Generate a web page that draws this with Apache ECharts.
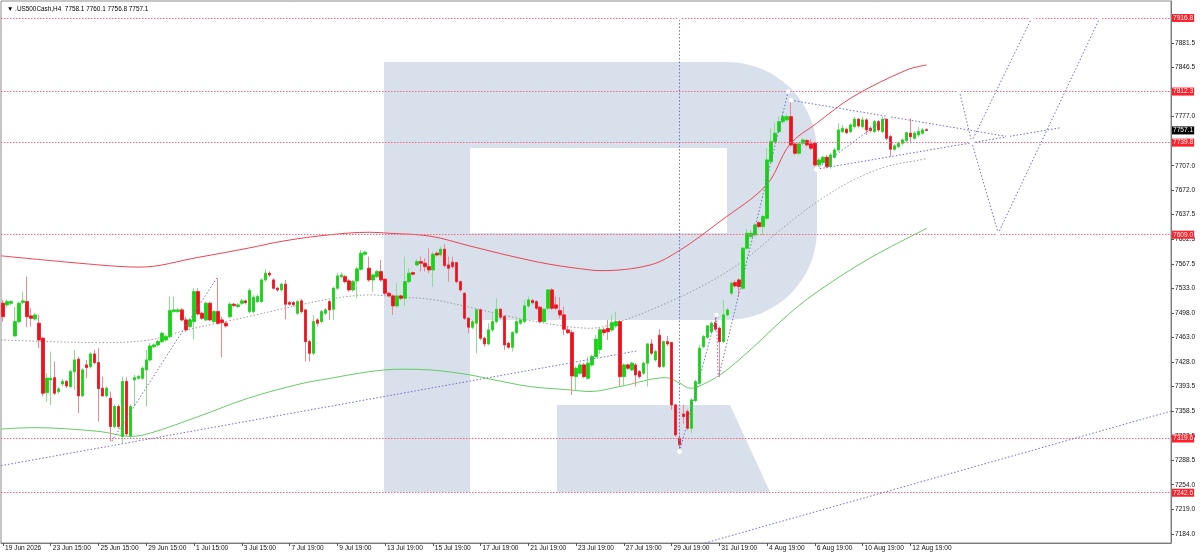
<!DOCTYPE html>
<html><head><meta charset="utf-8">
<script src="https://cdn.jsdelivr.net/npm/echarts@6/dist/echarts.min.js"></script>
<style>html,body{margin:0;padding:0;background:#fff}#c{width:1200px;height:555px}</style>
</head><body><div id="c"></div><script>
// ---- data (H4 candles, .US500Cash) ----
const open = [
7511.7,7509.3,7511.7,7465.3,7485.6,7513.0,7514.0,7493.7,7489.4,7483.3,
7462.0,7384.8,7402.8,7406.0,7386.2,7397.1,7400.5,7393.4,7414.6,7432.2,
7380.1,7424.1,7421.7,7439.7,7427.4,7391.0,7380.1,7376.8,7336.6,7365.0,
7322.4,7400.5,7323.3,7402.8,7405.2,7405.2,7417.0,7431.2,7450.1,7452.5,
7457.2,7459.6,7464.3,7500.0,7500.0,7502.2,7488.0,7478.5,7485.6,7528.2,
7497.5,7488.0,7511.7,7485.6,7499.8,7488.0,7483.3,7492.7,7510.3,7507.0,
7511.7,7515.0,7499.8,7499.8,7514.0,7514.0,7544.8,7554.3,7544.8,7533.0,
7530.6,7538.7,7512.6,7512.6,7497.5,7515.0,7502.2,7457.2,7440.7,7488.0,
7485.6,7497.5,7514.0,7503.2,7533.0,7549.5,7549.5,7543.4,7530.6,7543.4,
7560.0,7581.3,7561.4,7544.8,7549.5,7556.6,7545.8,7525.9,7522.1,7507.9,
7522.1,7518.8,7542.4,7555.2,7566.1,7570.8,7568.5,7563.7,7559.0,7582.7,
7580.3,7588.4,7566.1,7569.9,7569.4,7542.4,7525.9,7490.4,7477.6,7483.3,
7502.2,7462.0,7454.0,7473.8,7485.6,7503.2,7492.7,7454.9,7449.2,7470.0,
7483.3,7485.6,7507.9,7515.5,7514.0,7506.0,7485.6,7504.6,7530.6,7509.3,
7501.3,7495.1,7473.8,7470.0,7407.6,7412.3,7424.1,7405.2,7424.1,7436.0,
7446.0,7474.0,7476.0,7473.8,7479.5,7485.6,7407.6,7424.1,7417.0,7424.1,
7414.6,7412.3,7426.5,7453.9,7431.2,7466.0,7422.0,7457.2,7455.8,7367.3,
7320.0,7354.5,7357.9,7334.2,7373.5,7398.1,7450.1,7463.4,7471.4,7483.3,
7476.2,7457.2,7495.1,7525.9,7541.0,7544.8,7533.0,7589.8,7606.4,7608.7,
7626.2,7620.5,7632.4,7712.8,7741.2,7755.4,7769.6,7772.0,7776.7,7737.9,
7724.7,7738.9,7742.7,7738.0,7738.9,7708.1,7711.4,7719.0,7705.7,7719.0,
7729.4,7755.4,7758.7,7755.4,7762.5,7773.0,7762.5,7772.0,7760.2,7755.4,
7769.6,7755.4,7773.0,7748.3,7730.4,7734.1,7738.9,7742.7,7753.1,7746.0,
7750.7,7753.1,7758.1];
const high = [
7516.4,7517.0,7516.0,7506.9,7514.0,7528.2,7549.5,7504.6,7498.0,7495.1,
7464.3,7412.3,7443.0,7428.9,7393.0,7404.0,7403.0,7417.0,7445.4,7436.0,
7419.4,7431.2,7442.0,7445.4,7447.8,7407.6,7394.0,7386.2,7368.0,7368.0,
7407.6,7406.6,7368.0,7409.9,7410.0,7422.0,7445.4,7454.9,7455.0,7460.0,
7471.0,7467.0,7521.1,7521.1,7505.0,7505.0,7492.7,7491.0,7533.0,7533.0,
7500.0,7514.0,7514.0,7502.0,7549.5,7492.7,7486.0,7513.0,7512.0,7512.0,
7518.0,7517.0,7533.0,7523.0,7524.0,7547.0,7560.0,7557.0,7547.0,7535.0,
7541.0,7544.8,7515.0,7515.0,7516.0,7518.0,7504.0,7460.0,7495.1,7490.4,
7502.0,7505.0,7516.0,7535.3,7555.2,7555.2,7552.0,7546.0,7545.0,7563.7,
7587.4,7586.5,7577.9,7554.0,7559.0,7573.2,7547.0,7527.0,7524.0,7540.0,
7524.0,7577.9,7561.4,7557.0,7574.2,7577.9,7575.6,7589.8,7585.0,7585.0,
7592.1,7595.9,7577.9,7577.9,7570.8,7544.0,7527.0,7492.0,7488.0,7504.6,
7504.6,7464.0,7483.3,7497.5,7518.8,7504.6,7495.0,7457.0,7472.0,7492.7,
7490.0,7516.4,7521.1,7518.0,7516.0,7508.0,7505.0,7532.0,7533.0,7521.1,
7520.2,7507.0,7478.5,7473.8,7422.0,7427.0,7427.0,7436.0,7439.0,7466.7,
7478.0,7477.0,7488.0,7495.1,7499.8,7488.0,7426.5,7426.0,7429.0,7426.5,
7417.0,7429.0,7454.9,7460.6,7446.0,7474.8,7458.7,7465.3,7457.0,7368.7,
7324.7,7367.3,7361.2,7376.8,7403.0,7452.5,7466.7,7480.9,7486.0,7495.1,
7478.5,7516.4,7505.0,7543.0,7544.0,7547.2,7592.0,7616.8,7615.8,7625.0,
7627.6,7637.1,7731.8,7760.2,7767.3,7776.7,7783.8,7780.0,7799.5,7740.0,
7740.0,7746.0,7745.0,7745.0,7741.0,7718.0,7721.0,7722.3,7725.0,7732.0,
7767.3,7764.9,7761.0,7767.0,7776.7,7775.0,7776.7,7774.4,7763.0,7772.0,
7772.0,7776.7,7776.7,7750.7,7738.0,7741.0,7746.0,7755.4,7774.4,7756.0,
7762.0,7761.0,7760.1];
const low = [
7485.6,7506.0,7509.0,7464.3,7483.0,7510.0,7477.6,7478.5,7487.0,7447.8,
7379.2,7372.0,7367.3,7381.5,7383.0,7394.0,7391.0,7391.0,7388.6,7355.5,
7379.2,7405.2,7419.0,7425.0,7343.7,7379.2,7378.0,7312.0,7334.0,7333.0,
7312.9,7322.4,7320.0,7365.0,7403.0,7403.0,7365.0,7429.0,7448.0,7450.0,
7455.0,7457.0,7462.0,7498.0,7498.0,7486.0,7471.0,7476.0,7460.6,7494.0,
7488.0,7486.0,7486.0,7483.0,7481.0,7435.0,7477.0,7490.0,7506.0,7505.0,
7509.0,7510.0,7497.0,7497.0,7512.0,7512.0,7542.0,7549.0,7531.0,7528.0,
7528.0,7489.0,7508.0,7507.0,7495.0,7497.0,7428.9,7428.9,7438.0,7478.5,
7483.0,7495.0,7488.0,7488.0,7531.0,7547.0,7540.0,7528.0,7528.0,7518.8,
7558.0,7579.0,7542.0,7528.2,7547.0,7542.0,7523.0,7520.0,7495.1,7505.0,
7516.0,7507.9,7540.0,7551.0,7564.0,7556.6,7556.6,7554.3,7535.3,7578.0,
7578.0,7563.0,7542.4,7561.0,7540.0,7528.0,7488.0,7469.0,7475.0,7440.7,
7459.0,7450.1,7452.0,7471.0,7483.0,7489.0,7445.4,7447.0,7443.0,7468.0,
7481.0,7483.0,7505.0,7510.0,7502.2,7483.3,7483.0,7502.0,7502.0,7502.0,
7490.4,7466.7,7468.0,7381.5,7388.6,7410.0,7405.0,7403.0,7421.0,7433.0,
7440.0,7466.0,7459.6,7471.0,7477.0,7393.4,7393.4,7417.0,7415.0,7393.4,
7405.0,7410.0,7393.4,7438.0,7429.0,7419.4,7420.0,7451.0,7360.2,7322.0,
7301.0,7340.0,7331.8,7327.1,7371.0,7396.0,7448.0,7461.0,7469.0,7472.0,
7405.2,7455.0,7493.0,7523.0,7534.0,7521.1,7531.0,7588.0,7604.0,7606.0,
7618.0,7608.7,7630.0,7710.0,7739.0,7753.0,7767.0,7770.0,7734.1,7722.0,
7722.0,7736.0,7734.0,7729.0,7705.0,7705.0,7709.0,7703.0,7703.0,7717.0,
7727.0,7753.0,7752.0,7753.0,7760.0,7761.0,7760.0,7750.7,7754.0,7753.0,
7755.0,7753.0,7743.0,7719.9,7728.0,7732.0,7736.0,7740.0,7739.8,7744.0,
7748.0,7751.0,7756.8];
const close = [
7492.7,7514.0,7514.0,7485.6,7511.7,7515.0,7492.7,7490.4,7495.0,7459.6,
7383.9,7405.2,7405.2,7383.9,7390.0,7400.5,7394.3,7414.6,7431.2,7380.1,
7417.0,7420.3,7439.7,7427.4,7390.5,7380.1,7391.0,7336.6,7365.0,7336.6,
7400.5,7326.1,7365.0,7406.0,7407.6,7419.4,7431.2,7451.0,7452.5,7457.2,
7469.0,7464.3,7501.3,7502.2,7502.2,7488.0,7473.8,7488.0,7528.2,7496.5,
7490.4,7511.7,7488.0,7499.8,7483.3,7484.2,7479.5,7510.3,7508.4,7509.3,
7515.0,7512.6,7529.7,7520.2,7521.1,7544.8,7554.3,7551.9,7533.0,7530.6,
7538.7,7510.3,7510.3,7509.8,7514.0,7499.8,7457.2,7440.7,7485.6,7483.3,
7499.8,7502.2,7502.2,7533.0,7550.5,7551.9,7542.4,7530.6,7542.4,7560.4,
7582.7,7584.1,7544.8,7551.9,7556.6,7544.8,7525.9,7522.1,7507.9,7522.1,
7518.8,7542.4,7554.3,7552.9,7570.8,7568.5,7563.7,7559.0,7581.3,7580.3,
7588.4,7565.2,7561.4,7563.7,7542.4,7530.6,7490.4,7477.6,7485.6,7502.2,
7462.0,7454.0,7473.8,7485.6,7503.2,7491.8,7452.5,7449.2,7470.0,7485.6,
7488.0,7507.9,7516.4,7512.6,7504.6,7485.6,7503.2,7530.6,7504.6,7504.6,
7495.1,7474.8,7470.0,7408.5,7419.4,7424.1,7407.6,7426.5,7436.0,7460.6,
7474.0,7470.0,7471.4,7484.2,7485.6,7407.6,7424.1,7419.4,7426.5,7409.9,
7407.6,7426.5,7453.9,7440.7,7443.0,7421.7,7457.2,7453.9,7367.3,7324.7,
7310.5,7350.8,7334.2,7374.4,7400.5,7447.8,7464.3,7479.5,7483.3,7474.8,
7457.2,7495.1,7502.2,7540.1,7536.3,7535.3,7589.8,7611.1,7611.1,7622.9,
7620.5,7634.8,7715.2,7741.2,7753.1,7769.6,7776.7,7776.7,7736.5,7724.7,
7737.9,7743.6,7736.5,7731.8,7708.1,7715.2,7719.0,7705.7,7722.3,7729.4,
7757.8,7760.2,7754.0,7764.9,7773.0,7763.5,7772.0,7757.8,7756.9,7769.6,
7757.8,7773.0,7746.0,7730.4,7735.1,7738.9,7743.6,7754.0,7748.3,7753.1,
7755.4,7757.8,7757.1];

// x tick labels (one every 12 bars) and price tick labels
const xTickLabels = ['19 Jun 2026','23 Jun 15:00','25 Jun 15:00','29 Jun 15:00','1 Jul 15:00','3 Jul 15:00',
  '7 Jul 19:00','9 Jul 19:00','13 Jul 19:00','15 Jul 19:00','17 Jul 19:00','21 Jul 19:00','23 Jul 19:00',
  '27 Jul 19:00','29 Jul 19:00','31 Jul 19:00','4 Aug 19:00','6 Aug 19:00','10 Aug 19:00','12 Aug 19:00'];
const yTickLabels = [7184.0,7219.0,7254.0,7288.5,7323.5,7358.5,7393.5,7428.0,7463.0,7498.0,7533.0,
  7567.5,7602.5,7637.5,7672.0,7707.0,7777.0,7846.5,7881.5];
const levels = [7916.8, 7812.3, 7739.8, 7609.0, 7319.6, 7242.6];
const lastPrice = 7757.1;

// indicator lines: [bar index, price]
const maRed = [[-0.5,7579],[24.4,7566],[34.4,7563],[49.2,7577],[61.7,7590],[70.4,7600],[82.2,7609],
  [92.2,7612.5],[97.2,7611],[107.3,7607],[117.3,7593],[127.4,7579],[137.4,7567],[147.5,7559],[150,7558],
  [162.6,7566],[170.1,7587],[180.2,7628],[191.9,7680],[197.7,7737],[204.4,7767],[213.6,7805],[227.1,7843],[232.1,7850]];
const maGreen = [[-0.5,7333],[7.5,7335],[24.4,7329.5],[31.9,7322.5],[36.9,7327],[49.2,7351],[61.7,7377],
  [74.6,7397],[82.2,7405],[92.2,7414.6],[99.8,7418],[107.3,7417],[117.3,7410],[122.4,7404],[132.4,7393.4],
  [142.5,7388.6],[147.5,7386.3],[155,7393.4],[166.7,7406],[170.1,7398],[172.6,7391],[174.3,7392.4],
  [180.2,7410],[187.7,7445],[197.7,7497.5],[205.3,7530.6],[217.8,7575.6],[232.1,7618]];
const maGray = [[-0.5,7459.6],[11.8,7457.2],[24.4,7455.8],[36.9,7459.6],[46.2,7473.8],[57.9,7488],
  [74.6,7509.3],[82.2,7517.8],[92.2,7523.5],[99.8,7520.2],[107.3,7517.4],[117.3,7506],[127.4,7492.7],
  [137.4,7482.3],[147.5,7476.2],[155,7485.6],[167.6,7514],[177.6,7542],[186,7572],[196.9,7623],
  [205.3,7658.4],[213.7,7686.8],[222,7705.7],[230.4,7715.2],[232,7717]];

// drawn analysis lines: [bar index, price]
const trendLong = [[-0.5,7281],[159.3,7444]];
const trendLow = [[176.4,7171.2],[293.5,7358.5]];
const swingJun = [[26.9,7312],[54.0,7550]];
const swingVertical = [[170,7301],[170,7916.8]];
const swingJul = [[170,7301],[179.3,7495],[179.7,7404],[197.3,7812.3]];
const triUpper = [[198,7800],[252.5,7748.3]];
const triLower = [[204.4,7702],[266.4,7761.6]];
const triInner = [[204.4,7702],[222.3,7776.7]];
const pathDown = [[240.3,7813.6],[243.4,7741],[250.1,7611],[275.6,7916.8]];
const pathUp = [[243.4,7741],[258.5,7916.8]];

// ---- chart ----
const SLOTS = 294, TICK_STEP = 12;
const FONT = '"Liberation Sans", Arial, sans-serif';
const cats = Array.from({length: SLOTS}, (_, i) => 'b' + i);
const showTick = i => i % TICK_STEP === 0 && i / TICK_STEP < xTickLabels.length;
const wickData = open.map((o, i) => [o, close[i], low[i], high[i]]);
const bodyData = open.map((o, i) => [o, close[i], Math.min(o, close[i]), Math.max(o, close[i])]);
const n = open.length;
const titleText = '\u25BC .US500Cash,H4  ' + [open[n-1], high[n-1], low[n-1], close[n-1]].map(v => v.toFixed(1)).join(' ');

const PROJ = '#6a6fc6';
function proj(data, sym) {
  return {type: 'line', xAxisIndex: 1, yAxisIndex: 0, data: data, smooth: false,
    symbol: sym ? 'emptyCircle' : 'none', symbolSize: 2.5, showSymbol: sym,
    lineStyle: {color: PROJ, width: 1, type: [1.5, 2]},
    itemStyle: {color: '#ffffff', borderColor: '#8488d2', borderWidth: 0.6},
    z: 5, silent: true, animation: false};
}
function ma(data, color, type) {
  return {type: 'line', xAxisIndex: 1, yAxisIndex: 0, data: data, smooth: 0.35, symbol: 'none',
    lineStyle: {color: color, width: 1, type: type || 'solid'}, z: 2, silent: true, animation: false};
}

// watermark "R"
const WM = '#d7e0eb';
const wm = [
  {type: 'rect', shape: {x: 384, y: 62, width: 344, height: 86}},
  {type: 'rect', shape: {x: 384, y: 62, width: 86, height: 430}},
  {type: 'rect', shape: {x: 469, y: 233, width: 259, height: 87}},
  {type: 'rect', shape: {x: 727, y: 151, width: 90, height: 80}},
  {type: 'sector', shape: {cx: 727, cy: 152, r: 90, r0: 0, startAngle: -Math.PI / 2, endAngle: 0, clockwise: true}},
  {type: 'sector', shape: {cx: 727, cy: 230, r: 90, r0: 0, startAngle: 0, endAngle: Math.PI / 2, clockwise: true}},
  {type: 'polygon', shape: {points: [[557,405],[730,405],[770,492],[557,492]]}}
].map(e => Object.assign(e, {z: 1, silent: true, style: {fill: WM}}));

const chart = echarts.init(document.getElementById('c'), null, {renderer: 'canvas', width: 1200, height: 555});
chart.setOption({
  animation: false,
  backgroundColor: '#ffffff',
  textStyle: {fontFamily: FONT},
  title: {text: titleText, left: 2, top: 1,
    textStyle: {fontSize: 6.4, fontWeight: 'normal', color: '#000', fontFamily: FONT}},
  grid: {left: 1, right: 29, top: 1, bottom: 12, show: true, borderColor: '#8c8c8c', borderWidth: 1},
  graphic: {elements: wm},
  xAxis: [
    {type: 'category', data: cats, boundaryGap: true, position: 'bottom',
      axisLine: {show: true, onZero: false, lineStyle: {color: '#7a7a7a', width: 1}},
      axisTick: {show: true, alignWithLabel: true, interval: (i) => showTick(i), length: 3, lineStyle: {color: '#555'}},
      axisLabel: {show: true, interval: (i) => showTick(i), formatter: (v, i) => xTickLabels[i / TICK_STEP] || '',
        align: 'left', margin: 2, padding: [0, 0, 0, 2], fontSize: 6.6, color: '#111', fontFamily: FONT},
      splitLine: {show: false}},
    {type: 'value', min: -0.5, max: SLOTS - 0.5, show: false, splitLine: {show: false},
      axisLine: {onZero: false}}
  ],
  yAxis: {type: 'value', position: 'right', min: 7171.2, max: 7940.9, scale: true,
    axisLine: {show: true, onZero: false, lineStyle: {color: '#7a7a7a', width: 1}},
    axisTick: {show: true, length: 3, customValues: yTickLabels, lineStyle: {color: '#555'}},
    axisLabel: {show: true, customValues: yTickLabels, formatter: v => Number(v).toFixed(1),
      margin: 4, fontSize: 6.6, color: '#111', fontFamily: FONT},
    splitLine: {show: false}},
  series: [
    ma(maGray, '#9c9c9c', [1.5, 2]),
    ma(maRed, '#ee4455'),
    ma(maGreen, '#66cc66'),
    {type: 'line', xAxisIndex: 1, yAxisIndex: 0, data: [], z: 2, silent: true, animation: false,
      markLine: {silent: true, symbol: ['none', 'none'], animation: false,
        lineStyle: {color: '#f5667c', width: 1, type: [1.5, 1.5]},
        label: {show: true, position: 'end', distance: 1, formatter: p => Number(p.value).toFixed(1),
          backgroundColor: '#ff1f2a', color: '#fff', fontSize: 6.6, padding: [1, 1, 0, 1], fontFamily: FONT},
        data: levels.map(v => ({yAxis: v})).concat([{yAxis: lastPrice,
          lineStyle: {color: 'rgba(0,0,0,0)', width: 0},
          label: {show: true, backgroundColor: '#000', color: '#fff'}}])}},
    {type: 'candlestick', xAxisIndex: 0, yAxisIndex: 0, data: wickData, barWidth: 3, z: 3, silent: true,
      itemStyle: {color: '#a3e6a3', color0: '#f5a0a6', borderColor: '#8edc8e', borderColor0: '#f08890', borderWidth: 1}},
    {type: 'candlestick', xAxisIndex: 0, yAxisIndex: 0, data: bodyData, barWidth: 3, z: 4, silent: true,
      itemStyle: {color: '#14d414', color0: '#f0101c', borderColor: '#14d414', borderColor0: '#f0101c', borderWidth: 0.6}},
    proj(trendLong, false),
    proj(trendLow, false),
    proj(swingJun, true),
    proj(swingVertical, true),
    proj(swingJul, true),
    proj(triUpper, true),
    proj(triLower, true),
    proj(triInner, true),
    proj(pathDown, true),
    proj(pathUp, true)
  ]
});
</script></body></html>
